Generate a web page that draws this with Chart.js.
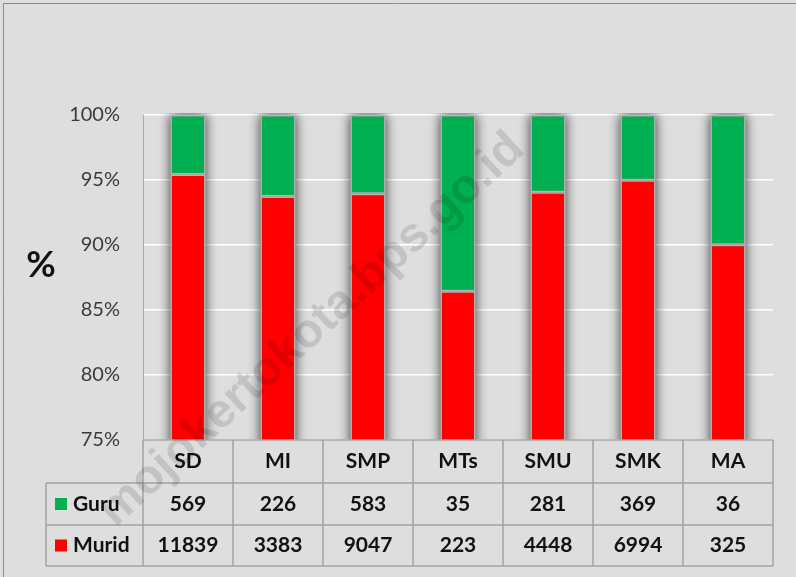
<!DOCTYPE html>
<html>
<head>
<meta charset="utf-8">
<script src="https://cdn.jsdelivr.net/npm/chart.js@4"></script>
<style>
  html, body { margin: 0; padding: 0; background: #dedede; }
  #wrap { width: 796px; height: 577px; }
</style>
</head>
<body>
<div id="wrap"><canvas id="chart" width="796" height="577"></canvas></div>
<script>
const categories = ["SD", "MI", "SMP", "MTs", "SMU", "SMK", "MA"];
const guru = [569, 226, 583, 35, 281, 369, 36];
const murid = [11839, 3383, 9047, 223, 4448, 6994, 325];
const yTicks = [75, 80, 85, 90, 95, 100];

const colGuru = "#00b050";
const colMurid = "#ff0000";
const fontFam = "Lato, 'Open Sans', sans-serif";

// percent share of each group per category
const muridPct = murid.map((m, i) => (m / (m + guru[i])) * 100);
const guruPct = guru.map((g, i) => (g / (g + murid[i])) * 100);

const frame = {
  id: "frame",
  beforeDraw(chart) {
    const ctx = chart.ctx;
    ctx.save();
    ctx.fillStyle = "#dedede";
    ctx.fillRect(0, 0, chart.width, chart.height);
    ctx.strokeStyle = "#8c8c8c";
    ctx.lineWidth = 1;
    ctx.beginPath();
    ctx.moveTo(3.5, chart.height);
    ctx.lineTo(3.5, 3.5);
    ctx.lineTo(chart.width, 3.5);
    ctx.stroke();
    ctx.restore();
  },
  beforeDatasetsDraw(chart) {
    // soft shadow behind each stacked column
    const ctx = chart.ctx;
    const area = chart.chartArea;
    const bars = chart.getDatasetMeta(0).data;
    const top = chart.scales.y.getPixelForValue(100);
    ctx.save();
    ctx.beginPath();
    ctx.rect(area.left + 1, area.top - 2, area.right - area.left, area.bottom - area.top + 2);
    ctx.clip();
    ctx.shadowColor = "rgba(0,0,0,0.75)";
    ctx.shadowBlur = 12;
    ctx.fillStyle = "#9a9a9a";
    bars.forEach((b) => {
      ctx.fillRect(b.x - b.width / 2, top, b.width, area.bottom - top + 10);
    });
    ctx.restore();
  },
  afterDraw(chart) {
    const ctx = chart.ctx;
    const x = chart.scales.x;
    const area = chart.chartArea;
    const half = (x.getPixelForValue(1) - x.getPixelForValue(0)) / 2;
    const left0 = 46;
    const rows = [area.bottom, 483, 525, 566];

    ctx.save();
    // table grid
    ctx.strokeStyle = "#a3a3a3";
    ctx.lineWidth = 1.5;
    ctx.beginPath();
    ctx.moveTo(area.left, rows[0]);
    ctx.lineTo(area.right, rows[0]);
    for (let r = 1; r < rows.length; r++) {
      ctx.moveTo(left0, rows[r]);
      ctx.lineTo(area.right, rows[r]);
    }
    categories.forEach((c, i) => {
      const cx = x.getPixelForValue(i);
      ctx.moveTo(cx - half, rows[0]);
      ctx.lineTo(cx - half, rows[3]);
    });
    ctx.moveTo(area.right, rows[0]);
    ctx.lineTo(area.right, rows[3]);
    ctx.moveTo(left0, rows[1]);
    ctx.lineTo(left0, rows[3]);
    ctx.stroke();

    // table text
    ctx.fillStyle = "#111";
    ctx.font = "bold 21px " + fontFam;
    ctx.textAlign = "center";
    ctx.textBaseline = "middle";
    categories.forEach((c, i) => {
      const cx = x.getPixelForValue(i);
      ctx.fillText(c, cx, (rows[0] + rows[1]) / 2);
      ctx.fillText(String(guru[i]), cx, (rows[1] + rows[2]) / 2);
      ctx.fillText(String(murid[i]), cx, (rows[2] + rows[3]) / 2);
    });

    // legend keys
    const legend = [["Guru", colGuru], ["Murid", colMurid]];
    legend.forEach(([name, col], r) => {
      const cy = (rows[r + 1] + rows[r + 2]) / 2;
      ctx.fillStyle = col;
      ctx.fillRect(55, cy - 6, 12, 12);
      ctx.fillStyle = "#111";
      ctx.textAlign = "left";
      ctx.fillText(name, 73, cy);
    });

    // axis unit
    ctx.font = "bold 36px " + fontFam;
    ctx.textAlign = "center";
    ctx.fillStyle = "#111";
    ctx.fillText("%", 41, 265);

    // watermark
    ctx.translate(312, 330);
    ctx.rotate(-42.5 * Math.PI / 180);
    ctx.font = "bold 48px 'Liberation Sans', Arial, sans-serif";
    ctx.fillStyle = "rgba(0,0,0,0.12)";
    ctx.textAlign = "center";
    ctx.fillText("mojokertokota.bps.go.id", 0, 0);
    ctx.restore();
  }
};

new Chart(document.getElementById("chart"), {
  type: "bar",
  data: {
    labels: categories,
    datasets: [
      {
        label: "Murid",
        data: muridPct,
        backgroundColor: colMurid,
        borderColor: "#b4b4b4",
        borderWidth: 1.5,
        borderSkipped: false,
        barPercentage: 0.39,
        categoryPercentage: 1
      },
      {
        label: "Guru",
        data: guruPct,
        backgroundColor: colGuru,
        borderColor: "#b4b4b4",
        borderWidth: 1.5,
        borderSkipped: false,
        barPercentage: 0.39,
        categoryPercentage: 1
      }
    ]
  },
  options: {
    responsive: false,
    animation: false,
    layout: { padding: { left: 0, right: 23, top: 115, bottom: 137 } },
    plugins: {
      legend: { display: false },
      tooltip: { enabled: false }
    },
    scales: {
      x: {
        stacked: true,
        ticks: { display: false },
        grid: { display: false },
        border: { display: false },
        afterFit: (s) => { s.height = 0; }
      },
      y: {
        stacked: true,
        min: yTicks[0],
        max: yTicks[yTicks.length - 1],
        afterFit: (s) => { s.width = 143; },
        afterBuildTicks: (s) => { s.ticks = yTicks.map((v) => ({ value: v })); },
        ticks: {
          padding: 23,
          color: "#3a3a3a",
          font: { family: fontFam, size: 20 },
          callback: (v) => v + "%"
        },
        grid: { color: "#ffffff", lineWidth: 1.5, drawTicks: false },
        border: { color: "#7fb0e6", width: 1 }
      }
    }
  },
  plugins: [frame]
});
</script>
</body>
</html>
